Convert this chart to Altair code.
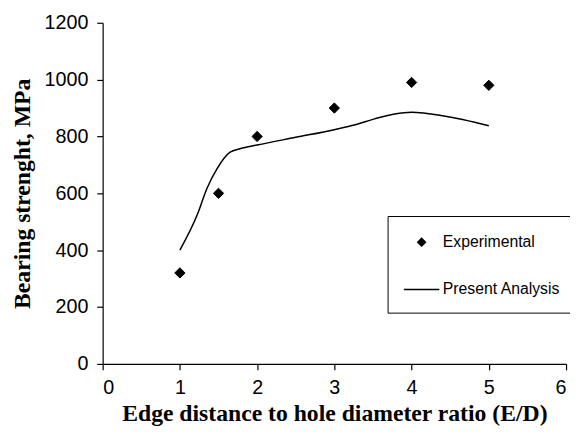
import altair as alt
import pandas as pd

# Experimental data points
exp_x = [1, 1.5, 2, 3, 4, 5]
exp_y = [320, 600, 800, 900, 990, 980]

# Present analysis curve
ana_x = [1, 1.23, 1.35, 1.48, 1.65, 1.78, 2, 2.5, 3, 3.27, 3.52, 3.78, 4, 4.42, 5]
ana_y = [400, 528, 617, 686, 745, 757, 770, 797, 824, 841, 862, 879, 885, 872, 838]

series = ["Experimental", "Present Analysis"]
x_ticks = [0, 1, 2, 3, 4, 5, 6]
y_ticks = [0, 200, 400, 600, 800, 1000, 1200]

exp_df = pd.DataFrame({"x": exp_x, "y": exp_y, "series": series[0]})
ana_df = pd.DataFrame({"x": ana_x, "y": ana_y, "series": series[1]})

diamond_path = "M0,-0.33L0.33,0L0,0.33L-0.33,0Z"
line_path = "M-1.2,-0.05L1.2,-0.05L1.2,0.05L-1.2,0.05ZM0,0.75"

x_enc = alt.X(
    "x:Q",
    scale=alt.Scale(domain=[0, 6], nice=False),
    axis=alt.Axis(values=x_ticks, title="Edge distance to hole diameter ratio (E/D)",
                  labelPadding=8, titlePadding=4, format="d"),
)
y_enc = alt.Y(
    "y:Q",
    scale=alt.Scale(domain=[0, 1200], nice=False),
    axis=alt.Axis(values=y_ticks, title="Bearing strenght, MPa",
                  labelPadding=9, titlePadding=10, format="d"),
)

line = alt.Chart(ana_df).mark_line(
    color="black", strokeWidth=1.5, interpolate="monotone"
).encode(x=x_enc, y=y_enc)

points = alt.Chart(exp_df).mark_point(
    filled=True, color="black", stroke="black", strokeWidth=1, opacity=1, size=1000
).encode(
    x=x_enc,
    y=y_enc,
    shape=alt.Shape(
        "series:N",
        scale=alt.Scale(domain=series, range=[diamond_path, line_path]),
        legend=alt.Legend(
            title=None,
            orient="none",
            legendX=289,
            legendY=196,
            strokeColor="black",
            fillColor="white",
            padding=11,
            symbolSize=900,
            symbolOffset=8,
            labelOffset=6,
            rowPadding=24,
            labelFont="Liberation Sans",
            labelFontSize=16,
            labelColor="black",
            symbolStrokeColor="black",
            symbolFillColor="black",
            symbolStrokeWidth=0.5,
        ),
    ),
)

chart = (
    alt.layer(line, points)
    .properties(
        width=470,
        height=346,
        autosize=alt.AutoSizeParams(type="none"),
        padding={"left": 96, "top": 12, "right": 4, "bottom": 60},
    )
    .configure_view(stroke=None)
    .configure_axis(
        grid=False,
        domainColor="black",
        domainWidth=1.2,
        tickColor="black",
        tickWidth=1.2,
        tickSize=6,
        labelFont="Liberation Sans",
        labelFontSize=20,
        labelColor="black",
        titleFont="Liberation Serif",
        titleFontWeight="bold",
        titleFontSize=24,
        titleColor="black",
    )
)

chart.save("out.html", embed_options={"renderer": "svg", "actions": False})
